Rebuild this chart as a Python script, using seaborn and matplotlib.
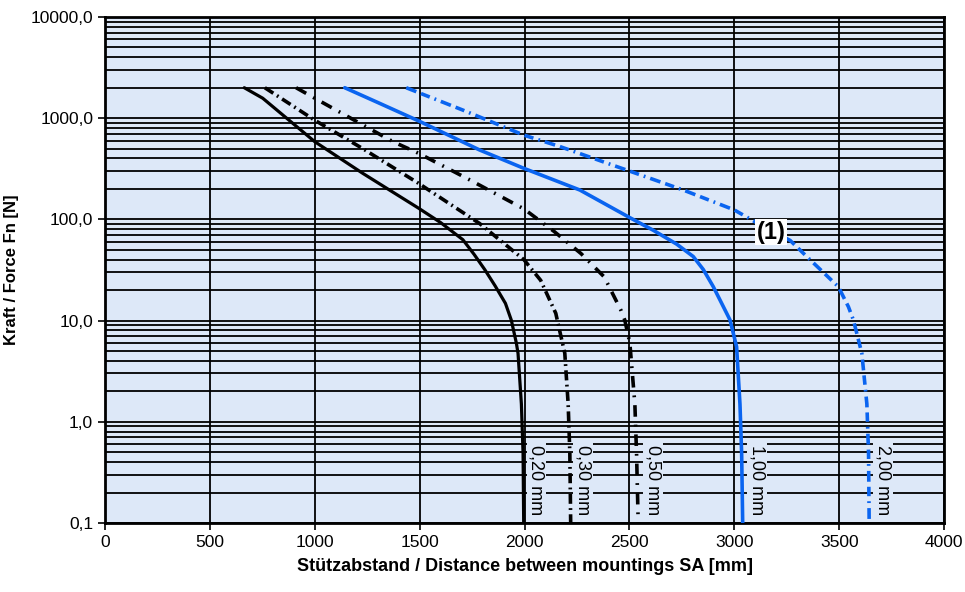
import matplotlib
matplotlib.use("Agg")
import matplotlib.pyplot as plt
import seaborn as sns
from matplotlib.ticker import LogLocator, NullFormatter

sns.set_theme(style="white")
plt.rcParams['font.family'] = ['Liberation Sans', 'DejaVu Sans']
plt.rcParams['text.color'] = 'black'
plt.rcParams['axes.labelcolor'] = 'black'
plt.rcParams['xtick.color'] = 'black'
plt.rcParams['ytick.color'] = 'black'

# curves: support distance SA [mm] -> force Fn [N]
sa_020 = [664, 752, 1000, 1229, 1495, 1600, 1706, 1760, 1810, 1860, 1909, 1937, 1961, 1969, 1985, 1993, 1996]
fn_020 = [2000, 1575, 586, 285, 129, 93, 63, 45, 32, 22, 14.8, 10.1, 6.0, 4.75, 1.5, 0.49, 0.1]

sa_030 = [762, 1000, 1229, 1495, 1786, 1997, 2077, 2149, 2160, 2192, 2208, 2216, 2220]
fn_030 = [2000, 955, 500, 227, 91, 40, 25, 11.8, 9.3, 4.75, 1.5, 0.49, 0.1]

sa_050 = [911, 1000, 1373, 1495, 1740, 1997, 2141, 2269, 2380, 2460, 2478, 2502, 2526, 2534, 2542]
fn_050 = [2000, 1575, 586, 450, 245, 127, 76, 46, 27, 12.6, 10.1, 6.0, 1.5, 0.49, 0.1]

sa_100 = [1143, 1300, 1495, 1786, 1996, 2264, 2502, 2614, 2725, 2804, 2852, 2900, 2948, 2980, 3011, 3027, 3035, 3040]
fn_100 = [2000, 1430, 940, 485, 320, 195, 104, 78, 57, 43, 32, 21.6, 13.7, 10.1, 5.5, 1.5, 0.49, 0.1]

sa_200 = [1436, 1707, 1997, 2168, 2501, 2757, 3000, 3138, 3266, 3345, 3496, 3544, 3568, 3608, 3632, 3640, 3643]
fn_200 = [2000, 1200, 680, 525, 300, 195, 124, 85, 62, 43, 21.6, 13.7, 10.1, 4.75, 1.5, 0.49, 0.1]

curve_labels = ['0,20 mm', '0,30 mm', '0,50 mm', '1,00 mm', '2,00 mm']
label_sa = [2057, 2279, 2613, 3107, 3708]

y_ticks = [0.1, 1, 10, 100, 1000, 10000]
y_ticklabels = ['0,1', '1,0', '10,0', '100,0', '1000,0', '10000,0']
x_ticks = [0, 500, 1000, 1500, 2000, 2500, 3000, 3500, 4000]

bg = '#dde8f8'
blue = '#0a64f0'

fig = plt.figure(figsize=(9.65, 5.92), dpi=100)
ax = fig.add_axes([0.1088, 0.1166, 0.8695, 0.8547])
ax.set_facecolor(bg)

styles = [
    (sa_020, fn_020, 'black', '-', 2.3),
    (sa_030, fn_030, 'black', (0, (2.8, 1.2, 0.5, 1.2)), 2.6),
    (sa_050, fn_050, 'black', (0, (3.2, 2.2, 0.5, 2.2)), 2.6),
    (sa_100, fn_100, blue, '-', 2.6),
    (sa_200, fn_200, blue, (0, (3, 1.4, 2.6, 1.4, 0.5, 1.4)), 2.6),
]
for sa, fn, c, ls, lw in styles:
    sns.lineplot(x=sa, y=fn, ax=ax, color=c, linestyle=ls, lw=lw,
                 sort=False, estimator=None, zorder=3)

ax.set_yscale('log')
ax.set_xlim(0, 4000)
ax.set_ylim(0.1, 10000)
ax.set_xticks(x_ticks)
ax.set_xticklabels([str(v) for v in x_ticks])
ax.set_yticks(y_ticks)
ax.set_yticklabels(y_ticklabels)
ax.yaxis.set_minor_locator(LogLocator(base=10, subs=range(1, 10)))
ax.yaxis.set_minor_formatter(NullFormatter())

ax.grid(which='both', axis='y', color='black', lw=1.3)
ax.grid(which='major', axis='x', color='black', lw=1.3)
ax.set_axisbelow(True)

ax.tick_params(axis='both', which='major', direction='out', length=5, width=1.2,
               labelsize=12.5, bottom=True, left=True, color='black')
ax.tick_params(axis='y', which='minor', length=0)
for s in ax.spines.values():
    s.set_color('black')
    s.set_linewidth(2)

for lab, xs in zip(curve_labels, label_sa):
    ax.text(xs, 0.266, lab, rotation=270, ha='center', va='center', fontsize=13,
            bbox=dict(facecolor=bg, edgecolor='none', pad=1), zorder=4)

ax.text(3175, 75, '(1)', fontsize=17, fontweight='bold', ha='center', va='center',
        bbox=dict(facecolor='white', edgecolor='none', pad=1), zorder=5)

ax.set_xlabel('Stützabstand / Distance between mountings SA [mm]', fontsize=13,
              fontweight='bold', labelpad=6)
ax.set_ylabel('Kraft / Force Fn [N]', fontsize=12, fontweight='bold', labelpad=8)

fig.savefig('out.png', dpi=100)
